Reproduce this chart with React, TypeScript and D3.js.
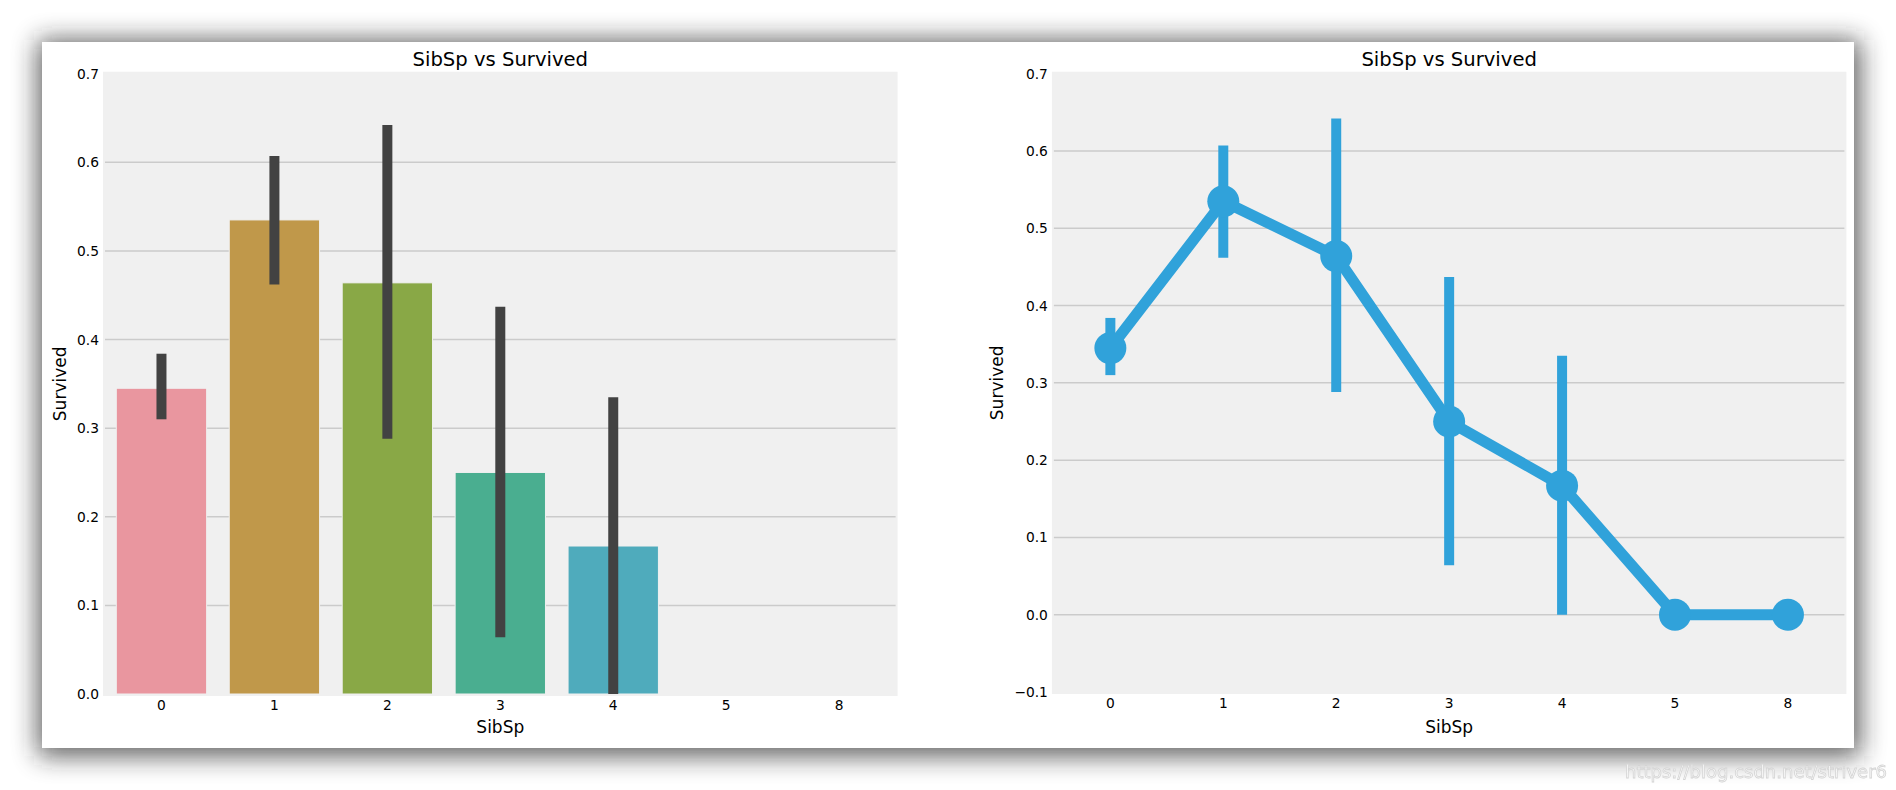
import * as d3 from 'd3';
import React from 'react';

// SibSp categories and survival rate (mean) with 95% CI bounds
const categories = ['0', '1', '2', '3', '4', '5', '8'];
const survived = [0.345, 0.535, 0.464, 0.25, 0.167, 0, 0];
const ciLow = [0.31, 0.462, 0.288, 0.064, 0.0, null, null];
const ciHigh = [0.384, 0.607, 0.642, 0.437, 0.335, null, null];
const barColors = ['#e9969f', '#c0984a', '#89a846', '#4aae90', '#4fabbc', '#a48cd6', '#e08fc6'];

const leftTicks = [0, 0.1, 0.2, 0.3, 0.4, 0.5, 0.6, 0.7];
const rightTicks = [-0.1, 0, 0.1, 0.2, 0.3, 0.4, 0.5, 0.6, 0.7];

const FONT = '"DejaVu Sans", sans-serif';
const BG = '#f0f0f0';
const GRID = '#cbcbcb';
const BLUE = '#30a2da';

const fmt = d3.format('.1f');

function Frame({ x, y, yTicks, plotTop, plotBottom, xLeft, xRight }: any) {
  return (
    <g>
      <rect x={xLeft - 2} y={plotTop - 2} width={xRight - xLeft + 4} height={plotBottom - plotTop + 4} fill={BG} />
      {yTicks.map((t: number) => (
        <g key={t}>
          {t !== yTicks[0] && t !== yTicks[yTicks.length - 1] ? (
            <line x1={xLeft} x2={xRight} y1={y(t)} y2={y(t)} stroke={GRID} strokeWidth={1.5} />
          ) : null}
          <text x={xLeft - 6} y={y(t)} dy="0.36em" textAnchor="end" fontSize={13.8} fontFamily={FONT} fill="#000">
            {fmt(t)}
          </text>
        </g>
      ))}
      {categories.map((c) => (
        <text key={c} x={(x(c) as number) + x.bandwidth() / 2} y={plotBottom + 16} fontSize={13.8}
          fontFamily={FONT} textAnchor="middle">{c}</text>
      ))}
    </g>
  );
}

function BarPanel() {
  const xLeft = 105, xRight = 895.6, top = 73.7, bottom = 694;
  const x = d3.scaleBand<string>().domain(categories).range([xLeft, xRight]).paddingInner(0).paddingOuter(0);
  const y = d3.scaleLinear().domain([0, 0.7]).range([bottom, top]);
  const bw = x.bandwidth() * 0.8;
  const cx = (c: string) => (x(c) as number) + x.bandwidth() / 2;
  return (
    <g>
      <Frame x={x} y={y} yTicks={leftTicks} plotTop={top} plotBottom={bottom} xLeft={xLeft} xRight={xRight} />
      {categories.map((c, i) => (
        <rect key={c} x={cx(c) - bw / 2} y={y(survived[i])} width={bw} height={y(0) - y(survived[i])}
          fill={barColors[i]} stroke={BG} strokeWidth={1} />
      ))}
      {categories.map((c, i) =>
        ciLow[i] === null ? null : (
          <line key={c} x1={cx(c)} x2={cx(c)} y1={y(ciLow[i] as number)} y2={y(ciHigh[i] as number)}
            stroke="#424242" strokeWidth={10} />
        )
      )}
      <text x={(xLeft + xRight) / 2} y={66} textAnchor="middle" fontSize={19.6} fontFamily={FONT}>SibSp vs Survived</text>
      <text x={(xLeft + xRight) / 2} y={733} textAnchor="middle" fontSize={17} fontFamily={FONT}>SibSp</text>
      <text transform={`translate(66,${(top + bottom) / 2}) rotate(-90)`} textAnchor="middle" fontSize={17}
        fontFamily={FONT}>Survived</text>
    </g>
  );
}

function PointPanel() {
  const xLeft = 1053.9, xRight = 1844.4, top = 73.7, bottom = 692;
  const x = d3.scaleBand<string>().domain(categories).range([xLeft, xRight]);
  const y = d3.scaleLinear().domain([-0.1, 0.7]).range([bottom, top]);
  const cx = (c: string) => (x(c) as number) + x.bandwidth() / 2;
  const line = d3.line<number>().x((_, i) => cx(categories[i])).y((d) => y(d));
  return (
    <g>
      <Frame x={x} y={y} yTicks={rightTicks} plotTop={top} plotBottom={bottom} xLeft={xLeft} xRight={xRight} />
      {categories.map((c, i) =>
        ciLow[i] === null ? null : (
          <line key={c} x1={cx(c)} x2={cx(c)} y1={y(ciLow[i] as number)} y2={y(ciHigh[i] as number)}
            stroke={BLUE} strokeWidth={10} />
        )
      )}
      <path d={line(survived) as string} fill="none" stroke={BLUE} strokeWidth={11} />
      {categories.map((c, i) => (
        <circle key={c} cx={cx(c)} cy={y(survived[i])} r={16} fill={BLUE} />
      ))}
      <text x={(xLeft + xRight) / 2} y={66} textAnchor="middle" fontSize={19.6} fontFamily={FONT}>SibSp vs Survived</text>
      <text x={(xLeft + xRight) / 2} y={733} textAnchor="middle" fontSize={17} fontFamily={FONT}>SibSp</text>
      <text transform={`translate(1003,${(top + bottom) / 2}) rotate(-90)`} textAnchor="middle" fontSize={17}
        fontFamily={FONT}>Survived</text>
    </g>
  );
}

export default function App() {
  return (
    <svg width={1896} height={790} style={{ position: 'absolute', left: 0, top: 0, display: 'block' }}>
      <defs>
        <filter id="shadow" x="-10%" y="-20%" width="120%" height="140%">
          <feGaussianBlur stdDeviation={13} />
        </filter>
        <filter id="soft">
          <feGaussianBlur stdDeviation={0.6} />
        </filter>
      </defs>
      <rect width={1896} height={790} fill="#fff" />
      <rect x={38} y={40} width={1822} height={716} fill="#222" opacity={0.72} filter="url(#shadow)" />
      <rect x={42} y={42} width={1812} height={706} fill="#fff" />
      <BarPanel />
      <PointPanel />
      <text x={1887} y={778} textAnchor="end" fontSize={18} fontFamily={FONT} fill="#fafafa" stroke="#d4d4d4"
        strokeWidth={0.8} filter="url(#soft)">https://blog.csdn.net/striver6</text>
    </svg>
  );
}
